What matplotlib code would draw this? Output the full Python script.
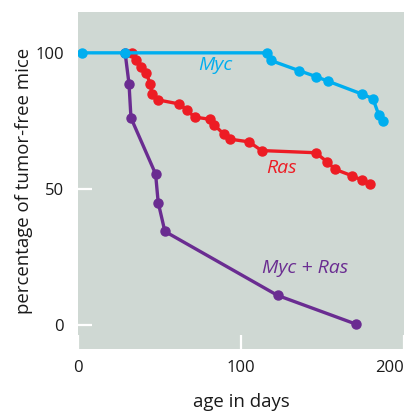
import matplotlib
matplotlib.use("Agg")
import matplotlib.pyplot as plt

# Data (age in days, percentage tumor-free)
myc_days = [2.4, 28.9, 116, 118.3, 135.4, 145.9, 153.3, 174, 180.9, 184.6, 187.4]
myc_pct = [100, 100, 100, 97.2, 93.5, 91.3, 89.6, 84.9, 83.2, 77.1, 75.1]

ras_days = [33.3, 35.8, 38.6, 41.9, 44.3, 45.5, 49.2, 62.2, 66.7, 71.5, 80.9, 83.7,
            89.4, 93.1, 104.9, 112.6, 145.9, 152.9, 157.7, 168.3, 174, 178.9]
ras_pct = [100, 97.2, 94.7, 92.5, 88.6, 84.7, 82.7, 81.2, 79, 76.4, 75.6, 73.4,
           70.2, 68.3, 67.3, 64.1, 63.3, 59.9, 57.2, 54.8, 53.3, 51.8]

both_days = [28.9, 31.3, 32.5, 47.6, 49.2, 53.3, 122.4, 170.7]
both_pct = [100, 88.6, 76.1, 55.5, 45, 34.4, 10.9, 0.3]

xticks = [0, 100, 200]
xtick_labels = ["0", "100", "200"]
yticks = [0, 50, 100]
ytick_labels = ["0", "50", "100"]

c_myc = "#00aeef"
c_ras = "#ed1c24"
c_both = "#6a2c91"
bg = "#cfd8d3"
txt = "#1a1a1a"

plt.rcParams['font.family'] = ['Open Sans', 'DejaVu Sans']

fig = plt.figure(figsize=(4.04, 4.11), dpi=100)
ax = fig.add_axes([78/404, 1 - 349/411, (404 - 78)/404, (349 - 12)/411])
ax.set_facecolor(bg)
for s in ax.spines.values():
    s.set_visible(False)

ax.set_xlim(0, 200)
ax.set_ylim(-8.8, 115)

kw = dict(lw=2.4, marker='o', ms=6.5, solid_joinstyle='round')
ax.plot(both_days, both_pct, color=c_both, **kw)
ax.plot(ras_days, ras_pct, color=c_ras, **kw)
ax.plot(myc_days, myc_pct, color=c_myc, **kw)

ax.text(84, 95.6, "Myc", color=c_myc, fontsize=14, style='italic', ha='center', va='center')
ax.text(124.8, 57.6, "Ras", color=c_ras, fontsize=14, style='italic', ha='center', va='center')
ax.text(139.4, 20.8, "Myc + Ras", color=c_both, fontsize=14, style='italic', ha='center', va='center')

ax.set_xticks(xticks, xtick_labels)
ax.set_yticks(yticks, ytick_labels)
ax.tick_params(direction='in', length=10, width=1.6, color='white', labelsize=12, labelcolor=txt)
ax.tick_params(axis='y', pad=10)
ax.tick_params(axis='x', pad=8)

ax.set_xlabel("age in days", fontsize=13.4, color=txt, labelpad=12)
ax.set_ylabel("percentage of tumor-free mice", fontsize=13.4, color=txt, labelpad=1.5)

for t in ax.xaxis.get_major_ticks():
    pass
ax.xaxis.get_major_ticks()[-1].label1.set_horizontalalignment('right')

fig.savefig("out.png", dpi=100)
